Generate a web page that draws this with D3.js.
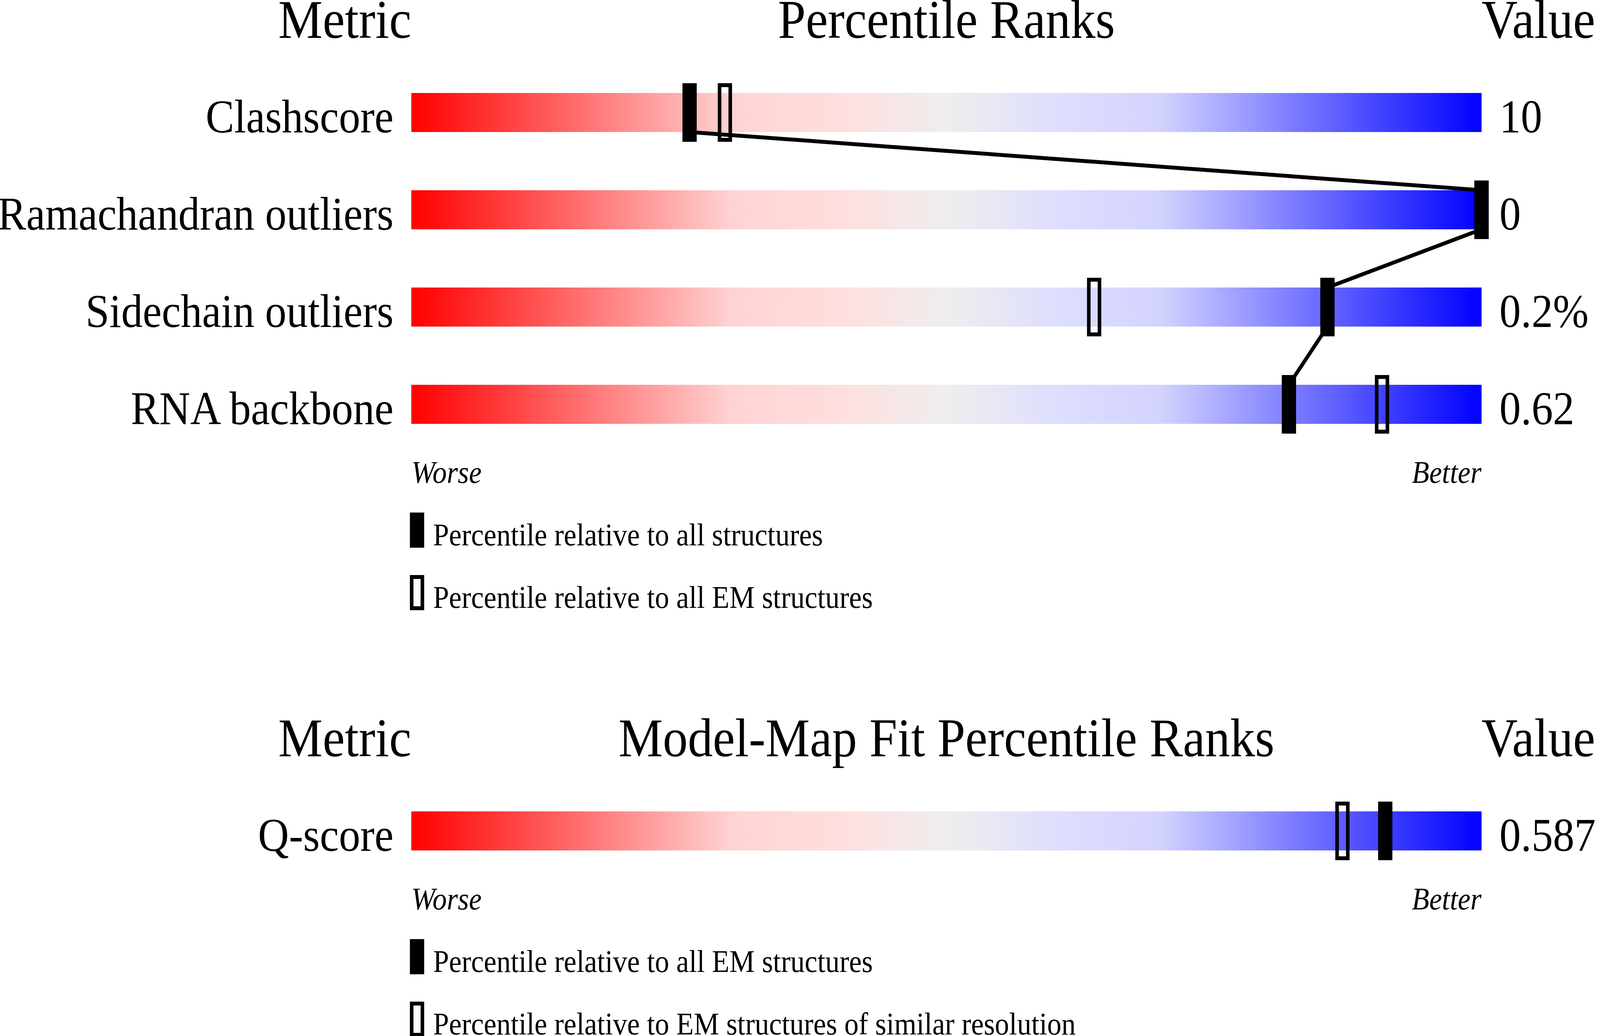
<!DOCTYPE html>
<html>
  <head>
    <meta charset="utf-8">
    <title>Percentile Ranks</title>
    <script src="https://cdn.jsdelivr.net/npm/d3@7"></script>
    <style type="text/css">
      html, body { margin: 0; padding: 0; background: #fff; overflow: hidden; }
      svg { display: block; width: 100vw; height: 100vh; }
      text { font-family: "Liberation Serif", "Times New Roman", serif; fill: #000; }
    </style>
  </head>
  <body>
    <script>
    // data
    var metrics = ["Clashscore", "Ramachandran outliers", "Sidechain outliers", "RNA backbone"];
    var metricValues = ["10", "0", "0.2%", "0.62"];
    var pctAll = [26, 100, 85.6, 82];      // filled markers
    var pctEM = [29.3, 100, 63.8, 90.7];   // hollow markers

    var fitMetrics = ["Q-score"];
    var fitValues = ["0.587"];
    var fitAllEM = [91];
    var fitSimRes = [87];

    var legend1 = ["Percentile relative to all structures", "Percentile relative to all EM structures"];
    var legend2 = ["Percentile relative to all EM structures", "Percentile relative to EM structures of similar resolution"];

    var width = 4485, height = 2652;
    var barH = 100, rowStep = 249;

    // drawn in a fixed 4485x2652 box that fills the window
    var svg = d3.select("body").append("svg")
        .attr("viewBox", "0 0 " + width + " " + height)
        .attr("preserveAspectRatio", "none");

    // colour ramp of the slider
    var grad = svg.append("defs").append("linearGradient")
        .attr("id", "ramp");
    [[0, "#ff0000"], [0.3, "#ffd3d3"], [0.4, "#ffdede"], [0.5, "#eeeeee"],
     [0.6, "#dedeff"], [0.7, "#d3d3ff"], [1, "#0000ff"]].forEach(function(s) {
      grad.append("stop").attr("offset", s[0]).attr("stop-color", s[1]);
    });

    var x = d3.scaleLinear().domain([0, 100]).range([1153, 4153]);

    function section(top, title, names, vals, filled, hollow, legendTexts, joinLine) {
      var g = svg.append("g");
      var y = d3.scalePoint().domain(names)
          .range([top + 141, top + 141 + rowStep * (names.length - 1)]);

      // header
      g.append("text").attr("x", x(0)).attr("y", top)
        .attr("text-anchor", "end").style("font-size", "140px").text("Metric");
      g.append("text").attr("x", (x(0) + x(100)) / 2).attr("y", top)
        .attr("text-anchor", "middle").style("font-size", "140px").text(title);
      g.append("text").attr("x", x(100)).attr("y", top)
        .attr("text-anchor", "start").style("font-size", "140px").text("Value");

      // bars
      g.selectAll("rect.bar").data(names).enter().append("rect")
        .attr("class", "bar")
        .attr("x", x(0)).attr("width", x(100) - x(0))
        .attr("y", function(d) { return y(d); })
        .attr("height", barH)
        .attr("fill", "url(#ramp)");

      g.selectAll("text.lab").data(names).enter().append("text")
        .attr("class", "lab")
        .attr("x", x(0) - 50)
        .attr("y", function(d) { return y(d) + barH + 1; })
        .attr("text-anchor", "end").style("font-size", "120px")
        .text(function(d) { return d; });

      g.selectAll("text.val").data(vals).enter().append("text")
        .attr("class", "val")
        .attr("x", x(100) + 50)
        .attr("y", function(d, i) { return y(names[i]) + barH + 1; })
        .style("font-size", "120px")
        .text(function(d) { return d; });

      // line joining the filled markers
      if (joinLine) {
        for (var i = 0; i < names.length - 1; i++) {
          g.append("line")
            .attr("x1", x(filled[i])).attr("y1", y(names[i]) + barH)
            .attr("x2", x(filled[i + 1])).attr("y2", y(names[i + 1]))
            .attr("stroke", "#000").attr("stroke-width", 10);
        }
      }

      // hollow markers
      g.selectAll("rect.hol").data(hollow).enter().append("rect")
        .attr("class", "hol")
        .attr("x", function(d) { return x(d) - 15; })
        .attr("y", function(d, i) { return y(names[i]) - 20; })
        .attr("width", 30).attr("height", 140)
        .attr("fill", "none").attr("stroke", "#000").attr("stroke-width", 10);

      // filled markers
      g.selectAll("rect.fil").data(filled).enter().append("rect")
        .attr("class", "fil")
        .attr("x", function(d) { return x(d) - 20; })
        .attr("y", function(d, i) { return y(names[i]) - 25; })
        .attr("width", 40).attr("height", 150)
        .attr("fill", "#000");

      var base = y(names[names.length - 1]) + barH + 151;
      g.append("text").attr("x", x(0)).attr("y", base)
        .style("font-size", "80px").style("font-style", "italic").text("Worse");
      g.append("text").attr("x", x(100)).attr("y", base)
        .attr("text-anchor", "end")
        .style("font-size", "80px").style("font-style", "italic").text("Better");

      // legend
      var lg = g.selectAll("g.leg").data(legendTexts).enter().append("g")
        .attr("class", "leg")
        .attr("transform", function(d, i) { return "translate(0," + (base + i * 160) + ")"; });
      lg.append("rect")
        .attr("x", function(d, i) { return i === 0 ? 1149 : 1154; })
        .attr("y", function(d, i) { return i === 0 ? 76 : 81; })
        .attr("width", function(d, i) { return i === 0 ? 40 : 30; })
        .attr("height", function(d, i) { return i === 0 ? 90 : 80; })
        .attr("fill", function(d, i) { return i === 0 ? "#000" : "none"; })
        .attr("stroke", function(d, i) { return i === 0 ? "none" : "#000"; })
        .attr("stroke-width", 10);
      lg.append("text")
        .attr("x", 1214).attr("y", 160)
        .style("font-size", "80px")
        .text(function(d) { return d; });
    }

    section(97, "Percentile Ranks", metrics, metricValues, pctAll, pctEM, legend1, true);
    section(1936, "Model-Map Fit Percentile Ranks", fitMetrics, fitValues, fitAllEM, fitSimRes, legend2, false);
    </script>
  </body>
</html>
